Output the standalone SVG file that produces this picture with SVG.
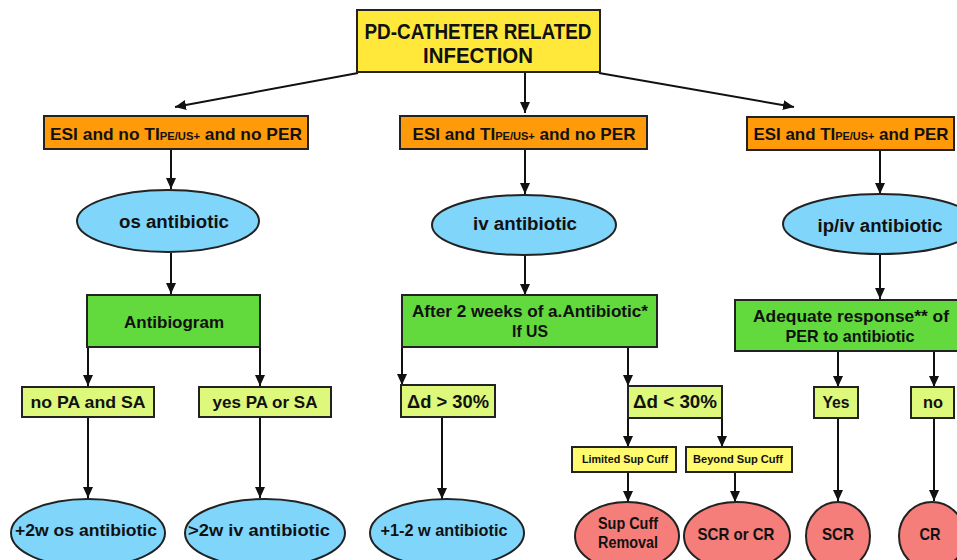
<svg xmlns="http://www.w3.org/2000/svg" width="957" height="560" viewBox="0 0 957 560">
<defs>
<marker id="ah" markerUnits="userSpaceOnUse" markerWidth="12" markerHeight="12" viewBox="0 0 12 12" refX="11" refY="6" orient="auto">
<path d="M0,1 L11,6 L0,11 Z" fill="#111"/>
</marker>
<style>
text{font-family:"Liberation Sans",Arial,sans-serif;font-weight:bold;fill:#111;text-anchor:middle}
.box{stroke:#222;stroke-width:2}
.title{fill:#FFE83A}
.orange{fill:#FF9A0A}
.green{fill:#62D93C}
.lime{fill:#DDF87A}
.yel{fill:#FFFA6E}
.blue{fill:#80D5FA}
.red{fill:#F57E7A}
.c{stroke:#111;stroke-width:2;fill:none;marker-end:url(#ah)}
.sub{font-size:11px}
</style>
</defs>
<rect width="957" height="560" fill="#fff"/>

<g id="connectors">
<line class="c" x1="358" y1="73" x2="175" y2="107"/>
<line class="c" x1="525" y1="72" x2="525" y2="113"/>
<line class="c" x1="599" y1="73" x2="794" y2="107"/>
<line class="c" x1="171" y1="149" x2="171" y2="189"/>
<line class="c" x1="171" y1="253" x2="171" y2="294"/>
<line class="c" x1="88" y1="347" x2="88" y2="386"/>
<line class="c" x1="260" y1="347" x2="260" y2="386"/>
<line class="c" x1="88" y1="418" x2="88" y2="498"/>
<line class="c" x1="260" y1="418" x2="260" y2="498"/>
<line class="c" x1="525" y1="149" x2="525" y2="194"/>
<line class="c" x1="525" y1="255" x2="525" y2="295"/>
<line class="c" x1="402" y1="347" x2="402" y2="385"/>
<line class="c" x1="628" y1="347" x2="628" y2="386"/>
<line class="c" x1="442" y1="417" x2="442" y2="499"/>
<line class="c" x1="628" y1="418" x2="628" y2="447"/>
<line class="c" x1="722" y1="418" x2="722" y2="447"/>
<line class="c" x1="628" y1="472" x2="628" y2="502"/>
<line class="c" x1="735" y1="472" x2="735" y2="502"/>
<line class="c" x1="880" y1="150" x2="880" y2="194"/>
<line class="c" x1="880" y1="254" x2="880" y2="299"/>
<line class="c" x1="838" y1="351" x2="838" y2="387"/>
<line class="c" x1="934" y1="351" x2="934" y2="387"/>
<line class="c" x1="838" y1="418" x2="838" y2="501"/>
<line class="c" x1="934" y1="418" x2="934" y2="501"/>
</g>

<g id="title">
<rect class="box title" x="357" y="10" width="243" height="62"/>
<text x="478" y="39" font-size="22" textLength="227" lengthAdjust="spacingAndGlyphs">PD-CATHETER RELATED</text>
<text x="478" y="63" font-size="22" textLength="110" lengthAdjust="spacingAndGlyphs">INFECTION</text>
</g>

<g id="esi1">
<rect class="box orange" x="44" y="116" width="264" height="33"/>
<text x="176" y="140" font-size="17" textLength="252" lengthAdjust="spacingAndGlyphs">ESI and no TI<tspan class="sub">PE/US+</tspan> and no PER</text>
</g>
<g id="esi2">
<rect class="box orange" x="400" y="116" width="247" height="33"/>
<text x="524" y="140" font-size="17" textLength="223" lengthAdjust="spacingAndGlyphs">ESI and TI<tspan class="sub">PE/US+</tspan> and no PER</text>
</g>
<g id="esi3">
<rect class="box orange" x="747" y="117" width="207" height="33"/>
<text x="851" y="140" font-size="17" textLength="195" lengthAdjust="spacingAndGlyphs">ESI and TI<tspan class="sub">PE/US+</tspan> and PER</text>
</g>

<g id="os">
<ellipse class="box blue" cx="168" cy="221" rx="91" ry="31"/>
<text x="174" y="228" font-size="18" textLength="110" lengthAdjust="spacingAndGlyphs">os antibiotic</text>
</g>
<g id="iv">
<ellipse class="box blue" cx="524" cy="225" rx="92" ry="30"/>
<text x="525" y="230" font-size="18" textLength="104" lengthAdjust="spacingAndGlyphs">iv antibiotic</text>
</g>
<g id="ipiv">
<ellipse class="box blue" cx="880" cy="224" rx="97" ry="30"/>
<text x="880" y="232" font-size="18" textLength="125" lengthAdjust="spacingAndGlyphs">ip/iv antibiotic</text>
</g>

<g id="antibiogram">
<rect class="box green" x="87" y="295" width="173" height="52"/>
<text x="174" y="328" font-size="17" textLength="100" lengthAdjust="spacingAndGlyphs">Antibiogram</text>
</g>
<g id="after">
<rect class="box green" x="402" y="295" width="255" height="52"/>
<text x="530" y="317" font-size="16" textLength="236" lengthAdjust="spacingAndGlyphs">After 2 weeks of a.Antibiotic*</text>
<text x="530" y="337" font-size="17" textLength="36" lengthAdjust="spacingAndGlyphs">If US</text>
</g>
<g id="adequate">
<rect class="box green" x="735" y="300" width="230" height="51"/>
<text x="851" y="322" font-size="17" textLength="196" lengthAdjust="spacingAndGlyphs">Adequate response** of</text>
<text x="850" y="342" font-size="17" textLength="129" lengthAdjust="spacingAndGlyphs">PER to antibiotic</text>
</g>

<g id="noPA">
<rect class="box lime" x="22" y="387" width="132" height="30"/>
<text x="88" y="408" font-size="17" textLength="115" lengthAdjust="spacingAndGlyphs">no PA and  SA</text>
</g>
<g id="yesPA">
<rect class="box lime" x="199" y="387" width="132" height="30"/>
<text x="265" y="408" font-size="17" textLength="105" lengthAdjust="spacingAndGlyphs">yes PA or  SA</text>
</g>
<g id="dgt">
<rect class="box lime" x="401" y="385" width="94" height="32"/>
<text x="448" y="408" font-size="18" textLength="82" lengthAdjust="spacingAndGlyphs">Δd &gt; 30%</text>
</g>
<g id="dlt">
<rect class="box lime" x="628" y="386" width="94" height="32"/>
<text x="675" y="408" font-size="18" textLength="84" lengthAdjust="spacingAndGlyphs">Δd &lt; 30%</text>
</g>
<g id="yes">
<rect class="box lime" x="814" y="387" width="44" height="31"/>
<text x="836" y="408" font-size="17" textLength="27" lengthAdjust="spacingAndGlyphs">Yes</text>
</g>
<g id="no">
<rect class="box lime" x="911" y="387" width="43" height="31"/>
<text x="933" y="408" font-size="17" textLength="20" lengthAdjust="spacingAndGlyphs">no</text>
</g>

<g id="limited">
<rect class="box yel" x="572" y="447" width="104" height="25"/>
<text x="625" y="463" font-size="11" textLength="86" lengthAdjust="spacingAndGlyphs">Limited Sup Cuff</text>
</g>
<g id="beyond">
<rect class="box yel" x="686" y="447" width="106" height="25"/>
<text x="738" y="463" font-size="11" textLength="90" lengthAdjust="spacingAndGlyphs">Beyond Sup Cuff</text>
</g>

<g id="os2w">
<ellipse class="box blue" cx="88" cy="533" rx="77" ry="34"/>
<text x="86" y="536" font-size="17" textLength="142" lengthAdjust="spacingAndGlyphs">+2w os antibiotic</text>
</g>
<g id="iv2w">
<ellipse class="box blue" cx="265" cy="533" rx="80" ry="34"/>
<text x="259" y="536" font-size="17" textLength="142" lengthAdjust="spacingAndGlyphs">&gt;2w iv antibiotic</text>
</g>
<g id="w12">
<ellipse class="box blue" cx="447" cy="533" rx="77" ry="34"/>
<text x="444" y="536" font-size="17" textLength="127" lengthAdjust="spacingAndGlyphs">+1-2 w antibiotic</text>
</g>
<g id="supcuff">
<ellipse class="box red" cx="627" cy="536" rx="52" ry="34"/>
<text x="628" y="529" font-size="16" textLength="60" lengthAdjust="spacingAndGlyphs">Sup Cuff</text>
<text x="628" y="548" font-size="16" textLength="60" lengthAdjust="spacingAndGlyphs">Removal</text>
</g>
<g id="scrcr">
<ellipse class="box red" cx="737" cy="536" rx="53" ry="34"/>
<text x="736" y="540" font-size="17" textLength="77" lengthAdjust="spacingAndGlyphs">SCR or CR</text>
</g>
<g id="scr">
<ellipse class="box red" cx="838" cy="536" rx="32" ry="34"/>
<text x="838" y="540" font-size="17" textLength="32" lengthAdjust="spacingAndGlyphs">SCR</text>
</g>
<g id="cr">
<ellipse class="box red" cx="932" cy="536" rx="33" ry="34"/>
<text x="930" y="540" font-size="17" textLength="21" lengthAdjust="spacingAndGlyphs">CR</text>
</g>
</svg>
